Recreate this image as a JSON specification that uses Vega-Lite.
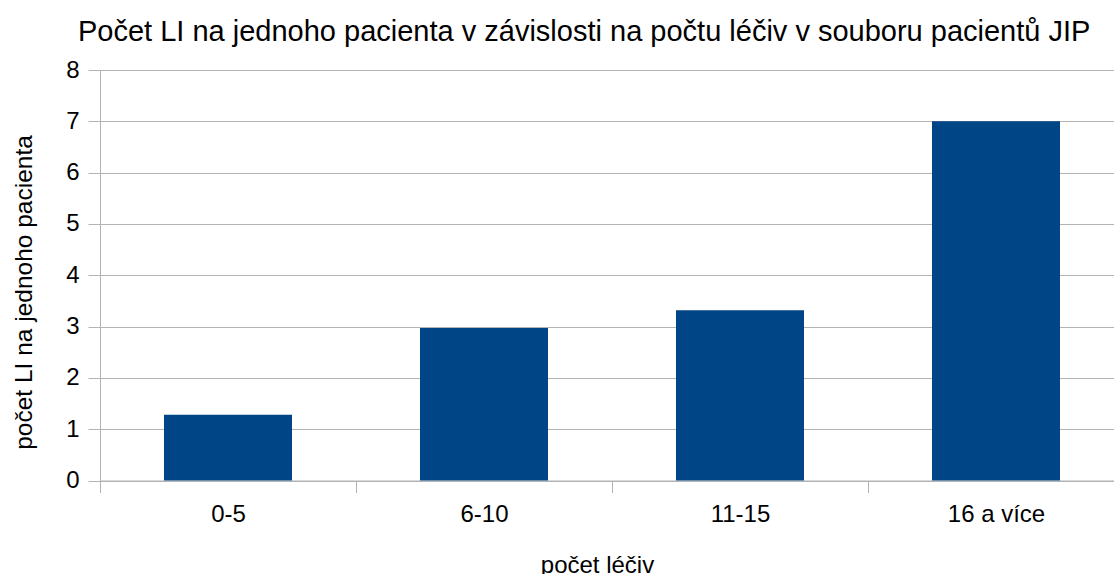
{
  "$schema": "https://vega.github.io/schema/vega-lite/v6.json",
  "autosize": "none",
  "width": 1014,
  "height": 410.5,
  "padding": {"left": 100, "top": 70, "right": 0, "bottom": 93.5},
  "background": "white",
  "title": {
    "text": "Počet LI na jednoho pacienta v závislosti na počtu léčiv v souboru pacientů JIP",
    "anchor": "start",
    "frame": "group",
    "dx": -22,
    "dy": 32,
    "offset": 20,
    "baseline": "alphabetic",
    "font": "Liberation Sans",
    "fontSize": 29,
    "fontWeight": "normal",
    "color": "black"
  },
  "data": {
    "values": [
      {"kategorie": "0-5", "hodnota": 1.28},
      {"kategorie": "6-10", "hodnota": 2.97},
      {"kategorie": "11-15", "hodnota": 3.32},
      {"kategorie": "16 a více", "hodnota": 7.0}
    ]
  },
  "mark": {"type": "bar", "color": "#004586", "width": {"band": 0.5}},
  "encoding": {
    "x": {
      "field": "kategorie",
      "type": "nominal",
      "sort": null,
      "scale": {"range": [0, 1024], "paddingInner": 0, "paddingOuter": 0},
      "axis": {
        "title": "počet léčiv",
        "labelAngle": 0,
        "tickBand": "extent",
        "grid": false,
        "tickSize": 12,
        "tickColor": "#b3b3b3",
        "domainColor": "#b3b3b3",
        "labelFont": "Liberation Sans",
        "labelFontSize": 24,
        "labelColor": "black",
        "labelPadding": 10,
        "titleFont": "Liberation Sans",
        "titleFontSize": 24,
        "titleFontWeight": "normal",
        "titleColor": "black",
        "titleX": 497,
        "titleY": 92,
        "titleBaseline": "alphabetic",
        "titleAlign": "center"
      }
    },
    "y": {
      "field": "hodnota",
      "type": "quantitative",
      "scale": {"domain": [0, 8], "nice": false},
      "axis": {
        "title": "počet LI na jednoho pacienta",
        "values": [0, 1, 2, 3, 4, 5, 6, 7, 8],
        "grid": true,
        "gridColor": "#b3b3b3",
        "tickSize": 12,
        "tickColor": "#b3b3b3",
        "domainColor": "#b3b3b3",
        "labelFont": "Liberation Sans",
        "labelFontSize": 24,
        "labelColor": "black",
        "labelPadding": 9,
        "titleFont": "Liberation Sans",
        "titleFontSize": 24.5,
        "titleFontWeight": "normal",
        "titleColor": "black",
        "titleX": -69,
        "titleY": 222,
        "titleAngle": -90,
        "titleBaseline": "alphabetic",
        "titleAlign": "center"
      }
    }
  },
  "config": {"view": {"stroke": null}}
}
